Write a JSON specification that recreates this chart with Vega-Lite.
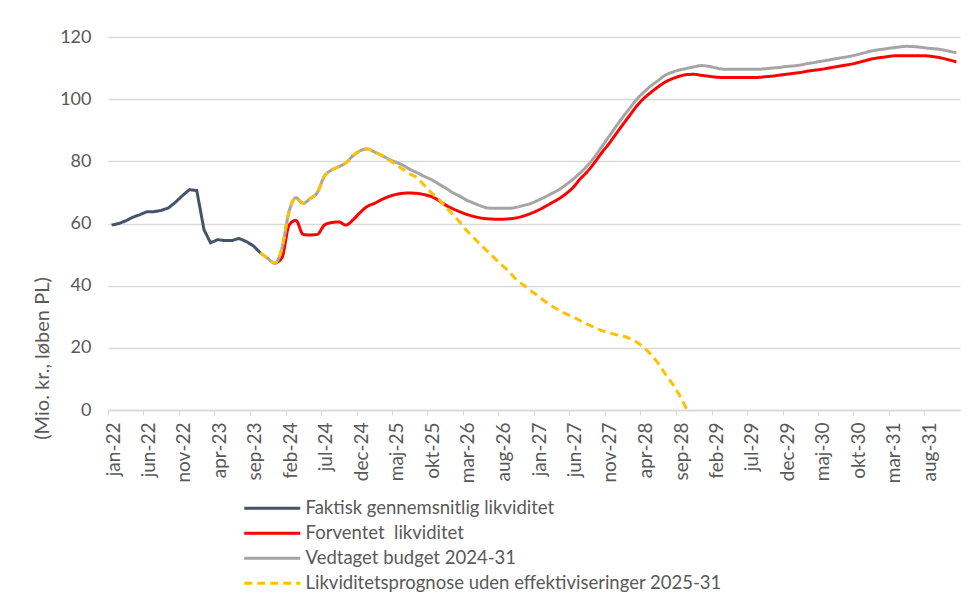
{
  "$schema": "https://vega.github.io/schema/vega-lite/v6.json",
  "autosize": "none",
  "width": 852,
  "height": 373,
  "padding": {"left": 108, "top": 37, "right": 9, "bottom": 188},
  "background": "white",
  "config": {
    "view": {"stroke": null},
    "font": "Lato"
  },
  "data": {
    "values": [
      {"d":"2022-01-01","f":59.5},
      {"d":"2022-02-01","f":60.0},
      {"d":"2022-03-01","f":60.8},
      {"d":"2022-04-01","f":62.0},
      {"d":"2022-05-01","f":62.8},
      {"d":"2022-06-01","f":63.8},
      {"d":"2022-07-01","f":63.8},
      {"d":"2022-08-01","f":64.2},
      {"d":"2022-09-01","f":65.0},
      {"d":"2022-10-01","f":66.8},
      {"d":"2022-11-01","f":69.0},
      {"d":"2022-12-01","f":70.9},
      {"d":"2023-01-01","f":70.6},
      {"d":"2023-02-01","f":58.0},
      {"d":"2023-03-01","f":53.8},
      {"d":"2023-04-01","f":54.8},
      {"d":"2023-05-01","f":54.5},
      {"d":"2023-06-01","f":54.5},
      {"d":"2023-07-01","f":55.2},
      {"d":"2023-08-01","f":54.2},
      {"d":"2023-09-01","f":52.8},
      {"d":"2023-10-01","f":50.5,"b":50.5,"p":50.5},
      {"d":"2023-11-01","b":48.8,"p":48.8},
      {"d":"2023-12-01","r":47.2,"b":47.2,"p":47.2},
      {"d":"2024-01-01","r":49.0,"b":52.0,"p":52.0},
      {"d":"2024-02-01","r":59.5,"b":64.0,"p":64.0},
      {"d":"2024-03-01","r":61.0,"b":68.3,"p":68.3},
      {"d":"2024-04-01","r":56.5,"b":66.5,"p":66.5},
      {"d":"2024-05-01","r":56.3,"b":68.0,"p":68.0},
      {"d":"2024-06-01","r":56.5,"b":70.0,"p":70.0},
      {"d":"2024-07-01","r":59.5,"b":75.2,"p":75.2},
      {"d":"2024-08-01","r":60.3,"b":77.2,"p":77.2},
      {"d":"2024-09-01","r":60.5,"b":78.3,"p":78.3},
      {"d":"2024-10-01","r":59.5,"b":79.5,"p":79.5},
      {"d":"2024-11-01","r":61.2,"b":81.8,"p":81.8},
      {"d":"2024-12-01","r":63.5,"b":83.4,"p":83.4},
      {"d":"2025-01-01","r":65.5,"b":84.0,"p":84.0},
      {"d":"2025-02-01","r":66.5,"b":83.0,"p":83.0},
      {"d":"2025-03-01","r":67.6,"b":82.0,"p":82.0},
      {"d":"2025-04-01","r":68.6,"b":80.8,"p":80.6},
      {"d":"2025-05-01","r":69.3,"b":79.8,"p":79.0},
      {"d":"2025-06-01","r":69.7,"b":78.8,"p":77.5},
      {"d":"2025-07-01","r":69.8,"b":77.5,"p":76.0},
      {"d":"2025-08-01","r":69.7,"b":76.4,"p":74.8},
      {"d":"2025-09-01","r":69.3,"b":75.2,"p":72.4},
      {"d":"2025-10-01","r":68.7,"b":74.2,"p":70.0},
      {"d":"2025-11-01","r":67.5,"b":72.8,"p":68.0},
      {"d":"2025-12-01","r":66.0,"b":71.5,"p":65.5},
      {"d":"2026-01-01","r":64.8,"b":70.0,"p":63.0},
      {"d":"2026-02-01","r":63.8,"b":68.8,"p":60.5},
      {"d":"2026-03-01","r":63.0,"b":67.6,"p":57.9},
      {"d":"2026-04-01","r":62.3,"b":66.6,"p":55.5},
      {"d":"2026-05-01","r":61.8,"b":65.7,"p":53.2},
      {"d":"2026-06-01","r":61.5,"b":65.0,"p":51.0},
      {"d":"2026-07-01","r":61.4,"b":64.9,"p":48.8},
      {"d":"2026-08-01","r":61.4,"b":64.9,"p":46.6},
      {"d":"2026-09-01","r":61.5,"b":64.9,"p":44.5},
      {"d":"2026-10-01","r":61.8,"b":65.2,"p":42.0},
      {"d":"2026-11-01","r":62.4,"b":65.8,"p":40.2},
      {"d":"2026-12-01","r":63.2,"b":66.4,"p":38.5},
      {"d":"2027-01-01","r":64.2,"b":67.4,"p":36.8},
      {"d":"2027-02-01","r":65.4,"b":68.5,"p":35.0},
      {"d":"2027-03-01","r":66.6,"b":69.6,"p":33.6},
      {"d":"2027-04-01","r":67.9,"b":70.8,"p":32.2},
      {"d":"2027-05-01","r":69.5,"b":72.4,"p":31.0},
      {"d":"2027-06-01","r":71.5,"b":74.2,"p":30.0},
      {"d":"2027-07-01","r":74.2,"b":76.2,"p":28.8},
      {"d":"2027-08-01","r":76.6,"b":78.5,"p":27.6},
      {"d":"2027-09-01","r":79.5,"b":81.3,"p":26.6},
      {"d":"2027-10-01","r":82.6,"b":84.5,"p":25.6},
      {"d":"2027-11-01","r":85.5,"b":87.8,"p":24.9},
      {"d":"2027-12-01","r":88.6,"b":91.0,"p":24.3},
      {"d":"2028-01-01","r":91.8,"b":94.2,"p":23.8},
      {"d":"2028-02-01","r":94.9,"b":97.2,"p":23.0},
      {"d":"2028-03-01","r":97.8,"b":100.0,"p":21.8},
      {"d":"2028-04-01","r":100.3,"b":102.3,"p":20.1},
      {"d":"2028-05-01","r":102.2,"b":104.3,"p":17.8},
      {"d":"2028-06-01","r":104.0,"b":106.0,"p":15.0},
      {"d":"2028-07-01","r":105.5,"b":107.7,"p":11.6},
      {"d":"2028-08-01","r":106.6,"b":108.7,"p":8.4},
      {"d":"2028-09-01","r":107.4,"b":109.4,"p":4.6},
      {"d":"2028-10-01","r":107.9,"b":109.9,"p":0.3},
      {"d":"2028-11-01","r":108.0,"b":110.4},
      {"d":"2028-12-01","r":107.7,"b":110.8},
      {"d":"2029-01-01","r":107.4,"b":110.6},
      {"d":"2029-02-01","r":107.1,"b":110.1},
      {"d":"2029-03-01","r":107.0,"b":109.7},
      {"d":"2029-04-01","r":107.0,"b":109.6},
      {"d":"2029-05-01","r":107.0,"b":109.6},
      {"d":"2029-06-01","r":107.0,"b":109.6},
      {"d":"2029-07-01","r":107.0,"b":109.6},
      {"d":"2029-08-01","r":107.0,"b":109.6},
      {"d":"2029-09-01","r":107.2,"b":109.8},
      {"d":"2029-10-01","r":107.4,"b":110.0},
      {"d":"2029-11-01","r":107.7,"b":110.2},
      {"d":"2029-12-01","r":108.0,"b":110.5},
      {"d":"2030-01-01","r":108.3,"b":110.7},
      {"d":"2030-02-01","r":108.6,"b":111.0},
      {"d":"2030-03-01","r":109.0,"b":111.4},
      {"d":"2030-04-01","r":109.3,"b":111.8},
      {"d":"2030-05-01","r":109.6,"b":112.2},
      {"d":"2030-06-01","r":110.0,"b":112.6},
      {"d":"2030-07-01","r":110.4,"b":113.0},
      {"d":"2030-08-01","r":110.8,"b":113.4},
      {"d":"2030-09-01","r":111.2,"b":113.8},
      {"d":"2030-10-01","r":111.7,"b":114.3},
      {"d":"2030-11-01","r":112.3,"b":114.9},
      {"d":"2030-12-01","r":112.9,"b":115.5},
      {"d":"2031-01-01","r":113.3,"b":115.9},
      {"d":"2031-02-01","r":113.6,"b":116.2},
      {"d":"2031-03-01","r":113.9,"b":116.5},
      {"d":"2031-04-01","r":114.0,"b":116.8},
      {"d":"2031-05-01","r":114.0,"b":117.0},
      {"d":"2031-06-01","r":114.0,"b":116.9},
      {"d":"2031-07-01","r":114.0,"b":116.7},
      {"d":"2031-08-01","r":113.9,"b":116.4},
      {"d":"2031-09-01","r":113.6,"b":116.2},
      {"d":"2031-10-01","r":113.2,"b":115.9},
      {"d":"2031-11-01","r":112.6,"b":115.4},
      {"d":"2031-12-01","r":112.0,"b":114.9}
    ]
  },
  "transform": [
    {"fold": ["f", "r", "b", "p"], "as": ["series", "value"]},
    {"filter": "isValid(datum.value)"}
  ],
  "encoding": {
    "x": {
      "field": "d",
      "type": "temporal",
      "scale": {
        "type": "utc",
        "nice": false,
        "domain": [
          {"year": 2021, "month": 12, "date": 16, "hours": 12, "utc": true},
          {"year": 2031, "month": 12, "date": 16, "hours": 12, "utc": true}
        ]
      },
      "axis": {
        "title": null,
        "grid": false,
        "values": [
          {"year":2022,"month":1,"date":1,"utc":true},
          {"year":2022,"month":6,"date":1,"utc":true},
          {"year":2022,"month":11,"date":1,"utc":true},
          {"year":2023,"month":4,"date":1,"utc":true},
          {"year":2023,"month":9,"date":1,"utc":true},
          {"year":2024,"month":2,"date":1,"utc":true},
          {"year":2024,"month":7,"date":1,"utc":true},
          {"year":2024,"month":12,"date":1,"utc":true},
          {"year":2025,"month":5,"date":1,"utc":true},
          {"year":2025,"month":10,"date":1,"utc":true},
          {"year":2026,"month":3,"date":1,"utc":true},
          {"year":2026,"month":8,"date":1,"utc":true},
          {"year":2027,"month":1,"date":1,"utc":true},
          {"year":2027,"month":6,"date":1,"utc":true},
          {"year":2027,"month":11,"date":1,"utc":true},
          {"year":2028,"month":4,"date":1,"utc":true},
          {"year":2028,"month":9,"date":1,"utc":true},
          {"year":2029,"month":2,"date":1,"utc":true},
          {"year":2029,"month":7,"date":1,"utc":true},
          {"year":2029,"month":12,"date":1,"utc":true},
          {"year":2030,"month":5,"date":1,"utc":true},
          {"year":2030,"month":10,"date":1,"utc":true},
          {"year":2031,"month":3,"date":1,"utc":true},
          {"year":2031,"month":8,"date":1,"utc":true},
          {"year":2032,"month":1,"date":1,"utc":true}
        ],
        "labelExpr": "utcyear(datum.value) > 2031 ? '' : ['jan','feb','mar','apr','maj','jun','jul','aug','sep','okt','nov','dec'][utcmonth(datum.value)] + '-' + substring(toString(utcyear(datum.value)), 2)",
        "labelAngle": -90,
        "labelAlign": "right",
        "labelBaseline": "middle",
        "labelFont": "Lato",
        "labelFontSize": 19,
        "labelColor": "#595959",
        "labelPadding": 7,
        "labelOffset": 5,
        "tickOffset": -3.55,
        "tickColor": "#d9d9d9",
        "tickSize": 5,
        "domainColor": "#d9d9d9",
        "domainWidth": 1.3,
        "labelOverlap": false
      }
    },
    "y": {
      "field": "value",
      "type": "quantitative",
      "scale": {"domain": [0, 120], "nice": false},
      "axis": {
        "title": "(Mio. kr., løben PL)",
        "titleFont": "Lato",
        "titleFontSize": 20,
        "titleFontWeight": "normal",
        "titleColor": "#595959",
        "titleX": -66,
        "titleY": 321,
        "titleAlign": "center",
        "titleBaseline": "middle",
        "titleAngle": -90,
        "values": [0, 20, 40, 60, 80, 100, 120],
        "grid": true,
        "gridColor": "#d9d9d9",
        "gridWidth": 1.3,
        "domain": false,
        "ticks": false,
        "labelFont": "Lato",
        "labelFontSize": 18,
        "labelColor": "#595959",
        "labelPadding": 17
      }
    },
    "color": {
      "field": "series",
      "type": "nominal",
      "scale": {"domain": ["f", "r", "b", "p"], "range": ["#44546A", "#FF0000", "#A5A5A5", "#FFC000"]},
      "legend": {
        "title": null,
        "orient": "none",
        "legendX": 155,
        "legendY": 462,
        "direction": "vertical",
        "symbolType": "M-4,0H4",
        "symbolSize": 196,
        "symbolStrokeWidth": 3,
        "labelFont": "Lato",
        "labelFontSize": 18.5,
        "labelColor": "#595959",
        "labelOffset": 24,
        "rowPadding": 6,
        "labelLimit": 600,
        "labelExpr": "datum.value == 'f' ? 'Faktisk gennemsnitlig likviditet' : datum.value == 'r' ? 'Forventet\u00a0 likviditet' : datum.value == 'b' ? 'Vedtaget budget 2024-31' : '\u00a0Likviditetsprognose uden effektiviseringer 2025-31'"
      }
    },
    "strokeDash": {
      "field": "series",
      "type": "nominal",
      "scale": {"domain": ["f", "r", "b", "p"], "range": [[1, 0], [1, 0], [1, 0], [8, 5]]},
      "legend": {
        "title": null,
        "orient": "none",
        "legendX": 155,
        "legendY": 462,
        "direction": "vertical",
        "symbolType": "M-4,0H4",
        "symbolSize": 196,
        "symbolStrokeWidth": 3,
        "labelFont": "Lato",
        "labelFontSize": 18.5,
        "labelColor": "#595959",
        "labelOffset": 24,
        "rowPadding": 6,
        "labelLimit": 600,
        "labelExpr": "datum.value == 'f' ? 'Faktisk gennemsnitlig likviditet' : datum.value == 'r' ? 'Forventet\u00a0 likviditet' : datum.value == 'b' ? 'Vedtaget budget 2024-31' : '\u00a0Likviditetsprognose uden effektiviseringer 2025-31'"
      }
    }
  },
  "layer": [
    {"transform": [{"filter": "datum.series == 'f'"}], "mark": {"type": "line", "strokeWidth": 3, "interpolate": "linear"}},
    {"transform": [{"filter": "datum.series == 'r'"}], "mark": {"type": "line", "strokeWidth": 3, "interpolate": "monotone"}},
    {"transform": [{"filter": "datum.series == 'b'"}], "mark": {"type": "line", "strokeWidth": 3, "interpolate": "monotone"}},
    {"transform": [{"filter": "datum.series == 'p'"}], "mark": {"type": "line", "strokeWidth": 3, "interpolate": "monotone"}}
  ]
}
